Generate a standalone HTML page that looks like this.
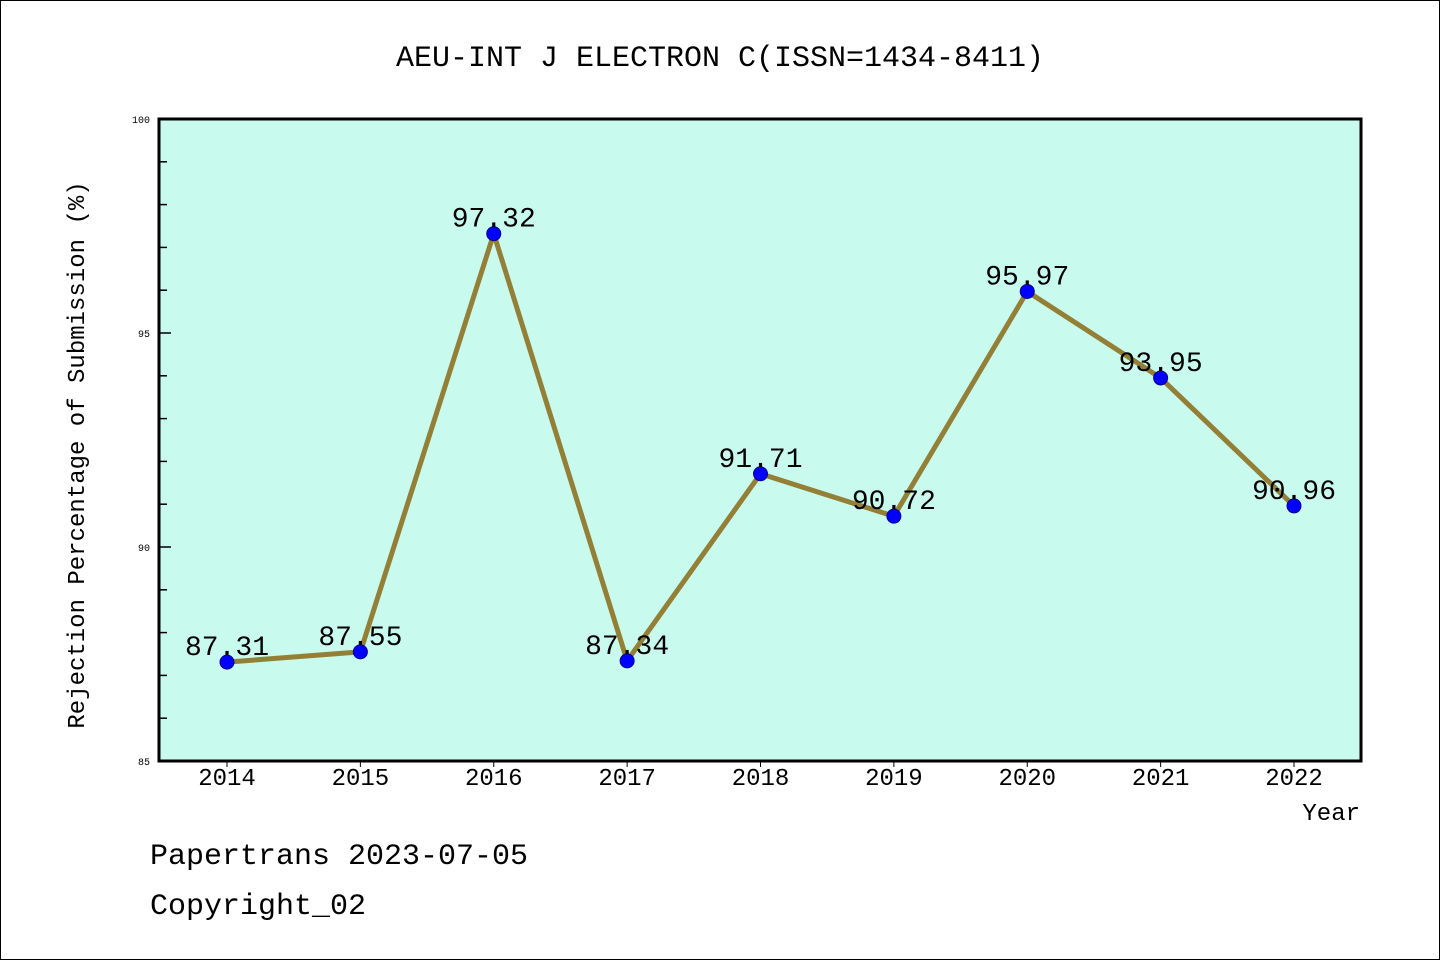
<!DOCTYPE html>
<html><head><meta charset="utf-8"><style>
body{margin:0;background:#fff}
svg{display:block}
text{font-family:"WenQuanYi Zen Hei Mono","Liberation Mono",monospace;fill:#000}
</style></head><body>
<svg id="chart" width="1440" height="960">
<rect x="0.5" y="0.5" width="1439" height="959" fill="#fff" stroke="#000"/>
<text x="720" y="66" font-size="30" text-anchor="middle">AEU-INT J ELECTRON C(ISSN=1434-8411)</text>
<rect x="159" y="119" width="1202" height="642" fill="#c8fbee"/>
<g id="axes"></g>
<g id="series"></g>
<rect x="159" y="119" width="1202" height="642" fill="none" stroke="#000" stroke-width="3"/>
<text x="84" y="455" font-size="24" text-anchor="middle" transform="rotate(-90 84 455)">Rejection Percentage of Submission (%)</text>
<text x="1360" y="820" font-size="24" text-anchor="end">Year</text>
<text x="150" y="864" font-size="30">Papertrans 2023-07-05</text>
<text x="150" y="914" font-size="30">Copyright_02</text>
</svg>
<script>
const categories=["2014","2015","2016","2017","2018","2019","2020","2021","2022"];
const values=[87.31,87.55,97.32,87.34,91.71,90.72,95.97,93.95,90.96];
const labels=["87.31","87.55","97.32","87.34","91.71","90.72","95.97","93.95","90.96"];
const yTicks=[85,90,95,100];
const NS="http://www.w3.org/2000/svg";
const yMin=85,yMax=100,plotTop=119,plotBot=761;
const y=v=>plotBot-(v-yMin)/(yMax-yMin)*(plotBot-plotTop);
const x=i=>227+i*(1294-227)/(categories.length-1);
function mk(t,a,p){const e=document.createElementNS(NS,t);for(const k in a)e.setAttribute(k,a[k]);p.appendChild(e);return e;}
const ax=document.getElementById('axes'),se=document.getElementById('series');
for(let v=yMin;v<=yMax;v++){
 const major=yTicks.includes(v);
 const l=mk('line',{x1:159,x2:159+(major?12:8),y1:y(v),y2:y(v),stroke:'#000','stroke-width':1.5},ax);
 
 
}
yTicks.forEach(v=>{const t=mk('text',{x:150,y:y(v)+4,'font-size':10,'text-anchor':'end'},ax);t.textContent=v;
 
 });
categories.forEach((c,i)=>{
 const l=mk('line',{x1:x(i),x2:x(i),y1:761,y2:767,stroke:'#000','stroke-width':1},ax);
 
 
 const t=mk('text',{x:x(i),y:785,'font-size':24,'text-anchor':'middle'},ax);t.textContent=c;
 
 
});
const pl=mk('polyline',{points:values.map((v,i)=>x(i)+','+y(v)).join(' '),fill:'none',stroke:'#947f36','stroke-width':5,'stroke-linejoin':'round'},se);


values.forEach((v,i)=>{
 const c=mk('circle',{cx:x(i),cy:y(v),r:7,fill:'#0000ff',stroke:'#00008b','stroke-width':1},se);
 
 
 const t=mk('text',{x:x(i),y:y(v)-7,'font-size':28,'text-anchor':'middle'},se);t.textContent=labels[i];
 
 
});
</script>
</body></html>
